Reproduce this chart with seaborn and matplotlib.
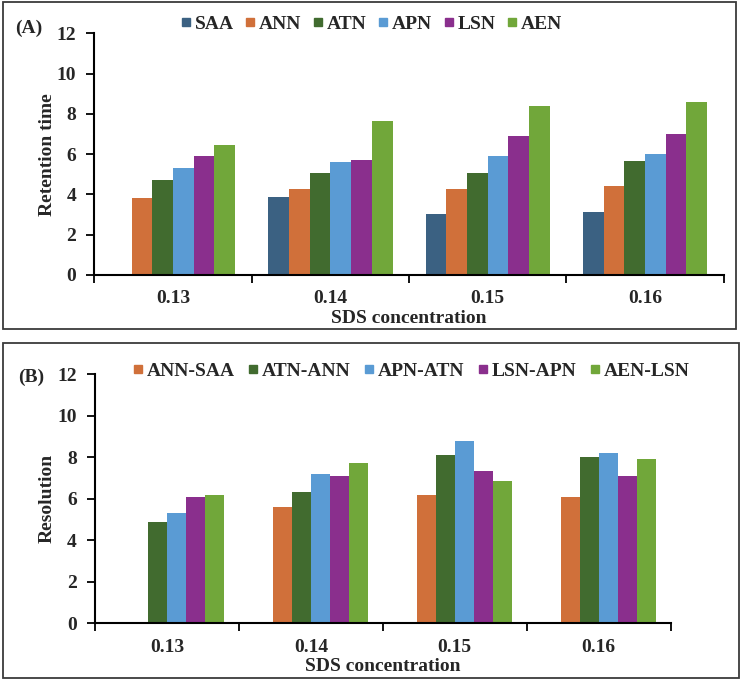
import matplotlib.pyplot as plt
import numpy as np
import pandas as pd
import seaborn as sns
from matplotlib.lines import Line2D
from matplotlib.patches import Rectangle
from matplotlib.ticker import FixedLocator

sns.set_theme(style="ticks")
plt.rcParams["font.family"] = ["Liberation Serif", "DejaVu Serif"]
plt.rcParams["font.weight"] = "bold"

concentrations = ["0.13", "0.14", "0.15", "0.16"]

# (A) retention time per analyte
rt_names = ["SAA", "ANN", "ATN", "APN", "LSN", "AEN"]
saa = [np.nan, 3.85, 3.02, 3.15]
ann = [3.84, 4.25, 4.25, 4.42]
atn = [4.73, 5.08, 5.05, 5.66]
apn = [5.32, 5.62, 5.90, 6.02]
lsn = [5.90, 5.70, 6.92, 7.00]
aen = [6.46, 7.65, 8.37, 8.57]

# (B) resolution between neighbouring peaks
res_names = ["ANN-SAA", "ATN-ANN", "APN-ATN", "LSN-APN", "AEN-LSN"]
ann_saa = [np.nan, 5.60, 6.20, 6.10]
atn_ann = [4.90, 6.30, 8.10, 8.00]
apn_atn = [5.30, 7.20, 8.77, 8.20]
lsn_apn = [6.10, 7.10, 7.35, 7.10]
aen_lsn = [6.20, 7.70, 6.85, 7.90]

colors = ["#3B6182", "#D0703A", "#416B2F", "#5A9BD4", "#8A2F8D", "#71A73A"]

FS = 14


def long_form(names, series):
    rows = []
    for name, vals in zip(names, series):
        for conc, v in zip(concentrations, vals):
            if not np.isnan(v):
                rows.append({"conc": conc, "series": name, "value": v})
    return pd.DataFrame(rows)


def style_axis(ax, ylabel, ylabel_x, xlabel_y):
    ax.set_xlim(-0.5, 3.5)
    ax.set_ylim(0, 12)
    ax.set_yticks(range(0, 13, 2))
    ax.xaxis.set_minor_locator(FixedLocator(np.arange(-0.5, 4, 1)))
    ax.tick_params(axis="x", which="major", length=0, pad=11, labelsize=FS)
    ax.tick_params(axis="x", which="minor", length=6, width=1.3, color="black")
    ax.tick_params(axis="y", length=6, width=1.3, pad=7, labelsize=FS, color="black")
    for s in ["top", "right"]:
        ax.spines[s].set_visible(False)
    for s in ["left", "bottom"]:
        ax.spines[s].set_color("black")
        ax.spines[s].set_linewidth(1.5)
    ax.set_ylabel(ylabel, fontsize=FS, fontweight="bold", va="center")
    ax.yaxis.set_label_coords(ylabel_x, 0.5)
    ax.set_xlabel("SDS concentration", fontsize=FS, fontweight="bold", va="center")
    ax.xaxis.set_label_coords(0.5, xlabel_y)
    ax.grid(False)


fig = plt.figure(figsize=(7.41, 6.81), dpi=100)
ax_a = fig.add_axes([0.1273, 0.5962, 0.8494, 0.3549])
ax_b = fig.add_axes([0.1282, 0.0847, 0.7769, 0.3661])

df_a = long_form(rt_names, [saa, ann, atn, apn, lsn, aen])
sns.barplot(data=df_a, x="conc", y="value", hue="series", order=concentrations,
            hue_order=rt_names, palette=colors, width=0.79, saturation=1,
            errorbar=None, legend=False, linewidth=0, ax=ax_a)
style_axis(ax_a, "Retention time", -0.075, -0.178)

# first slot of every group stays empty in (B), as in the original layout
df_b = long_form(res_names, [ann_saa, atn_ann, apn_atn, lsn_apn, aen_lsn])
sns.barplot(data=df_b, x="conc", y="value", hue="series", order=concentrations,
            hue_order=[" "] + res_names, palette=colors, width=0.79, saturation=1,
            errorbar=None, legend=False, linewidth=0, ax=ax_b)
style_axis(ax_b, "Resolution", -0.083, -0.175)


def square(c):
    return Line2D([], [], marker="s", linestyle="none", markersize=6,
                  markerfacecolor=c, markeredgecolor=c)


fig.legend([square(c) for c in colors], rt_names, loc="center",
           bbox_to_anchor=(371 / 741, 1 - 24 / 681), ncol=6, frameon=False,
           fontsize=FS, handlelength=0.6, handletextpad=0.15, columnspacing=0.55)
fig.legend([square(c) for c in colors[1:]], res_names, loc="center",
           bbox_to_anchor=(411 / 741, 1 - 371 / 681), ncol=5, frameon=False,
           fontsize=FS, handlelength=0.6, handletextpad=0.15, columnspacing=0.65)

fig.text(29 / 741, 1 - 28 / 681, "(A)", fontsize=FS, fontweight="bold", ha="center", va="center")
fig.text(31 / 741, 1 - 377 / 681, "(B)", fontsize=FS, fontweight="bold", ha="center", va="center")

for x0, y0, w, h in [(0.0034, 0.5169, 0.9895, 0.4806), (0.0036, 0.0044, 0.9933, 0.4924)]:
    fig.add_artist(Rectangle((x0, y0), w, h, transform=fig.transFigure, fill=False,
                             edgecolor="#3a3a3a", linewidth=1.3))

fig.savefig("out.png", dpi=100)
plt.close(fig)
